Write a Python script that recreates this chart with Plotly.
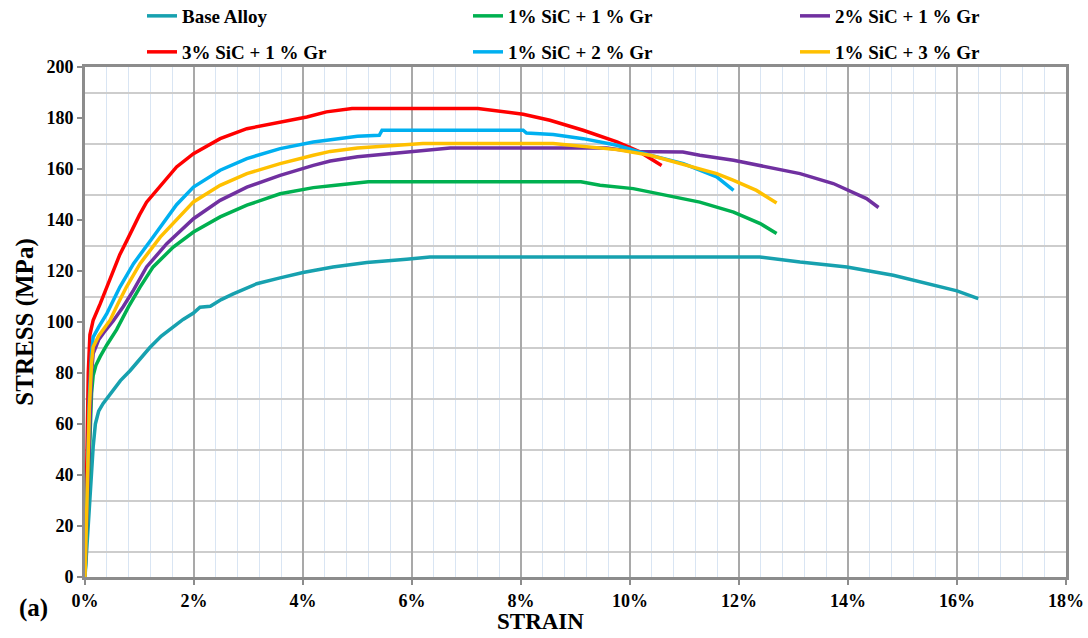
import plotly.graph_objects as go

# Engineering stress-strain data (strain in %, stress in MPa)
base_strain = [0, 0.03, 0.07, 0.11, 0.15, 0.19, 0.25, 0.33, 0.5, 0.65, 0.83, 1.0, 1.19, 1.4, 1.62, 1.8,
               1.99, 2.11, 2.3, 2.5, 2.72, 3.15, 3.58, 4.0, 4.55, 5.17, 5.9, 6.33, 8.0, 10.0, 12.38,
               13.12, 13.98, 14.83, 15.57, 16.0, 16.39]
base_stress = [0, 10, 25, 40, 51, 60, 65, 68, 72.5, 77, 81, 85.5, 90, 94.5, 98, 101,
               103.5, 105.8, 106.2, 108.8, 111, 115, 117.3, 119.4, 121.6, 123.3, 124.6, 125.5, 125.5, 125.5, 125.5,
               123.5, 121.6, 118.3, 114.4, 112.2, 109.2]

sic1gr1_strain = [0, 0.04, 0.08, 0.12, 0.15, 0.2, 0.28, 0.4, 0.58, 0.8, 1.01, 1.25, 1.62, 1.99, 2.48, 2.97,
                  3.58, 4.19, 4.6, 5.2, 9.1, 9.45, 10.06, 10.67, 11.28, 11.9, 12.39, 12.69]
sic1gr1_stress = [0, 25, 55, 72, 79, 83, 86.5, 91, 97, 106, 113.7, 121.6, 129.4, 135.3, 141.2, 145.8,
                  150.3, 152.7, 153.6, 155, 155, 153.6, 152.3, 149.7, 147, 143.1, 138.6, 134.7]

sic2gr1_strain = [0, 0.04, 0.08, 0.12, 0.15, 0.25, 0.35, 0.52, 0.7, 0.89, 1.13, 1.5, 1.99, 2.48, 2.97, 3.58,
                  4.19, 4.5, 5.0, 5.4, 5.96, 6.7, 9.57, 10.06, 10.97, 11.28, 11.9, 12.51, 13.12, 13.73,
                  14.1, 14.34, 14.56]
sic2gr1_stress = [0, 30, 62, 80, 87.6, 93, 96, 100.5, 106, 112.5, 121.6, 130.7, 140.5, 147.7, 152.9, 157.5,
                  161.4, 163.1, 164.8, 165.6, 166.7, 168.2, 168.2, 166.9, 166.7, 165.4, 163.4, 160.8, 158.2, 154.3,
                  150.5, 148.4, 144.9]

sic3gr1_strain = [0, 0.03, 0.06, 0.09, 0.15, 0.28, 0.4, 0.52, 0.64, 0.77, 0.89, 1.0, 1.13, 1.32, 1.5, 1.68,
                  1.99, 2.48, 2.97, 3.58, 4.07, 4.43, 4.9, 7.21, 7.67, 8.04, 8.53, 9.14, 9.76, 10.18, 10.58]
sic3gr1_stress = [0, 40, 80, 95, 100.7, 107.2, 113.7, 119.5, 126.5, 132, 137.3, 142, 147, 151.8, 156.5, 160.8,
                  166, 171.9, 175.8, 178.4, 180.4, 182.4, 183.7, 183.7, 182.4, 181.5, 179.1, 175.2, 170.6, 166.7, 161.4]

sic1gr2_strain = [0, 0.04, 0.08, 0.12, 0.15, 0.25, 0.4, 0.64, 0.89, 1.25, 1.68, 1.99, 2.48, 2.97, 3.58, 4.19,
                  4.5, 5.0, 5.4, 5.45, 8.04, 8.1, 8.59, 9.14, 9.76, 10.37, 10.98, 11.59, 11.9]
sic1gr2_stress = [0, 35, 70, 88, 94.1, 98, 103.3, 113.7, 122.9, 133.3, 146, 152.9, 159.5, 164.1, 168, 170.6,
                  171.5, 172.8, 173.2, 175.2, 175.2, 174.1, 173.5, 171.9, 169.3, 165.4, 162.1, 156.9, 151.6]

sic1gr3_strain = [0, 0.04, 0.08, 0.12, 0.15, 0.25, 0.46, 0.6, 0.76, 1.01, 1.38, 1.99, 2.48, 2.97, 3.58, 4.19,
                  4.5, 5.0, 5.78, 6.2, 8.59, 9.08, 9.76, 10.37, 10.97, 11.28, 11.59, 11.89, 12.32, 12.69]
sic1gr3_stress = [0, 32, 66, 84, 90.2, 94.5, 100.7, 107, 113.7, 122.9, 133.3, 147.1, 153.6, 158.2, 162.1, 165.4,
                  166.9, 168.2, 169.4, 170, 170, 168.9, 167.6, 165.4, 161.8, 160.2, 158.2, 155.6, 151.6, 146.7]

series_names = ["Base Alloy", "1% SiC + 1 % Gr", "2% SiC + 1 % Gr",
                "3% SiC + 1 % Gr", "1% SiC + 2 % Gr", "1% SiC + 3 % Gr"]
series_x = [base_strain, sic1gr1_strain, sic2gr1_strain, sic3gr1_strain, sic1gr2_strain, sic1gr3_strain]
series_y = [base_stress, sic1gr1_stress, sic2gr1_stress, sic3gr1_stress, sic1gr2_stress, sic1gr3_stress]
series_colors = ["#17A1AF", "#00B050", "#7030A0", "#FF0000", "#00B0F0", "#FFC000"]

x_ticks = list(range(0, 19, 2))
x_ticktext = [f"{v}%" for v in x_ticks]
y_ticks = list(range(0, 201, 20))

FONT = "Liberation Serif"

# legend grid: 3 columns x 2 rows, one legend box per entry (container pixels)
legend_cols_px = [142, 468, 795]
legend_rows_px = [16, 52]

fig = go.Figure()
layout_legends = {}
for i, (name, xs, ys, color) in enumerate(zip(series_names, series_x, series_y, series_colors)):
    leg_id = "legend" if i == 0 else f"legend{i + 1}"
    fig.add_trace(go.Scatter(
        x=xs, y=ys, mode="lines", name=name,
        line=dict(color=color, width=3.5),
        legend=leg_id,
    ))
    col, row = i % 3, i // 3
    layout_legends[leg_id] = dict(
        orientation="h",
        xref="container", yref="container",
        x=legend_cols_px[col] / 1088, y=1 - legend_rows_px[row] / 638,
        xanchor="left", yanchor="middle",
        font=dict(family=FONT, size=19, color="black", weight="bold"),
        itemwidth=30,
        bgcolor="rgba(0,0,0,0)",
    )

fig.update_layout(
    width=1088, height=638,
    margin=dict(l=85, r=22, t=67, b=61, autoexpand=False),
    paper_bgcolor="white",
    plot_bgcolor="white",
    font=dict(family=FONT, color="black"),
    showlegend=True,
    **layout_legends,
    xaxis=dict(
        range=[0, 18],
        tickvals=x_ticks, ticktext=x_ticktext,
        tickfont=dict(family=FONT, size=18, color="black", weight="bold"),
        showgrid=True, gridcolor="#A9A9A9", gridwidth=2,
        minor=dict(dtick=0.4, tick0=0, showgrid=True, gridcolor="#D9E5F3", gridwidth=1),
        showline=True, linecolor="#8C8C8C", linewidth=3, mirror=True,
        ticks="outside", ticklen=5, tickcolor="#8C8C8C", tickwidth=2,
        zeroline=False,
    ),
    yaxis=dict(
        range=[0, 200],
        tickvals=y_ticks,
        tickfont=dict(family=FONT, size=18, color="black", weight="bold"),
        showgrid=False,
        minor=dict(tick0=10, dtick=20, showgrid=True, gridcolor="#CDCDCD", gridwidth=2, ticks=""),
        showline=True, linecolor="#8C8C8C", linewidth=3, mirror=True,
        ticks="outside", ticklen=5, tickcolor="#8C8C8C", tickwidth=2,
        zeroline=False,
        title=dict(text="STRESS (MPa)", font=dict(family=FONT, size=25, color="black", weight="bold"),
                   standoff=6),
    ),
    annotations=[
        dict(text="STRAIN", xref="paper", yref="paper", x=(540 - 85) / (1066 - 85), y=-0.088,
             xanchor="center", yanchor="middle", showarrow=False,
             font=dict(family=FONT, size=23, color="black", weight="bold")),
        dict(text="(a)", xref="paper", yref="paper", x=-52 / (1066 - 85), y=-0.06,
             xanchor="center", yanchor="middle", showarrow=False,
             font=dict(family=FONT, size=25, color="black", weight="bold")),
    ],
)

fig.write_html("out.html")
